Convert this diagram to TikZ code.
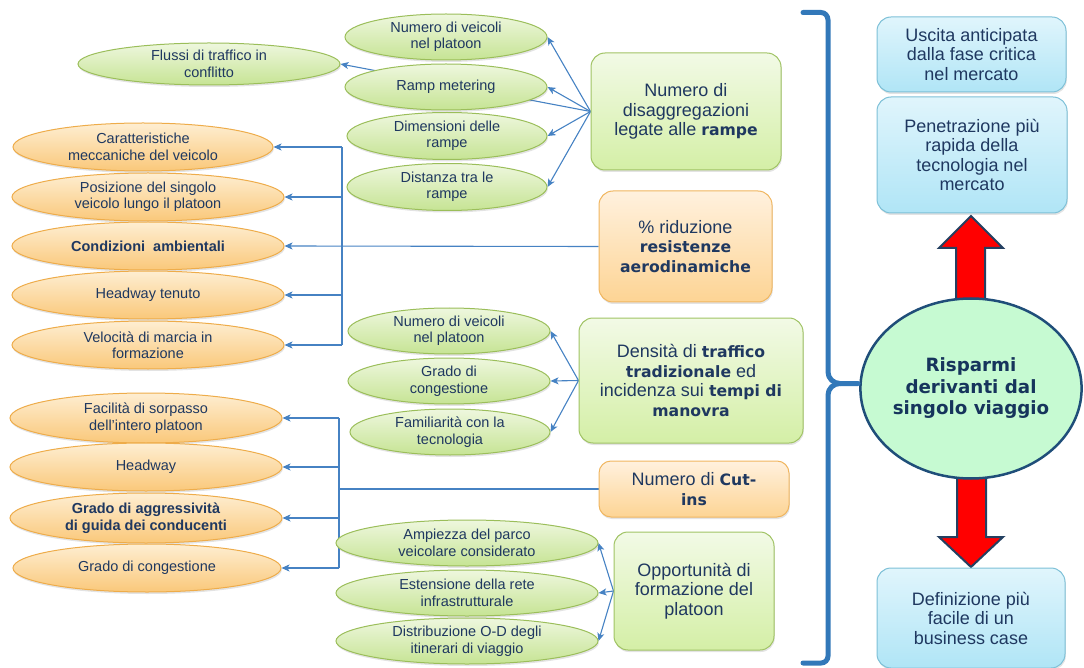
\documentclass[tikz,border=0pt]{standalone}
\usepackage{fontspec}
\setmainfont{Liberation Sans}
\newfontfamily\vb{DejaVu Sans}[Scale=0.87]
\usetikzlibrary{shapes.geometric,arrows.meta,shadows,calc}
\pgfdeclarelayer{background}
\pgfsetlayers{background,main}
\definecolor{txt}{RGB}{31,56,96}
\definecolor{gline}{RGB}{155,190,90}
\definecolor{gtop}{RGB}{238,247,222}
\definecolor{gbot}{RGB}{198,228,148}
\definecolor{oline}{RGB}{238,172,74}
\definecolor{otop}{RGB}{254,238,210}
\definecolor{obot}{RGB}{250,200,122}
\definecolor{gbline}{RGB}{160,195,100}
\definecolor{gbtop}{RGB}{242,250,230}
\definecolor{gbbot}{RGB}{212,239,166}
\definecolor{obline}{RGB}{240,182,96}
\definecolor{obtop}{RGB}{255,241,222}
\definecolor{obbot}{RGB}{253,212,148}
\definecolor{bbline}{RGB}{125,192,215}
\definecolor{bbtop}{RGB}{224,245,252}
\definecolor{bbbot}{RGB}{176,229,246}
\definecolor{lblue}{RGB}{70,130,195}
\definecolor{bracecol}{RGB}{50,120,185}
\definecolor{risline}{RGB}{31,78,121}
\definecolor{risfill}{RGB}{198,250,210}
\definecolor{ristxt}{RGB}{22,52,92}
\definecolor{rdark}{RGB}{36,64,97}
\begin{document}
\begin{tikzpicture}[x=1pt,y=-1pt,
  every node/.style={text=txt, align=center},
  ell/.style 2 args={ellipse, inner sep=0pt, minimum width=#1pt, minimum height=#2pt,
    line width=1pt, font=\fontsize{14.5}{16.5}\selectfont,
    drop shadow={opacity=0.22, shadow xshift=0.8pt, shadow yshift=-2pt}},
  gE/.style={draw=gline, top color=gtop, bottom color=gbot},
  oE/.style={draw=oline, top color=otop, bottom color=obot},
  box/.style 2 args={rectangle, rounded corners=14pt, inner sep=0pt, minimum width=#1pt,
    minimum height=#2pt, line width=1pt, font=\fontsize{18}{19.5}\selectfont,
    drop shadow={opacity=0.22, shadow xshift=0.8pt, shadow yshift=-2pt}},
  gB/.style={draw=gbline, top color=gbtop, bottom color=gbbot},
  oB/.style={draw=obline, top color=obtop, bottom color=obbot},
  bB/.style={draw=bbline, top color=bbtop, bottom color=bbbot},
  conn/.style={draw=lblue, line width=1.1pt},
  arr/.style={conn, -{Stealth[length=8pt,width=7pt,inset=2pt]}},
  bigbrace/.style={draw=bracecol, line width=5pt},
  redarr/.style={fill=red, draw=rdark, line width=2pt, line join=miter}
]
\useasboundingbox (0,0) rectangle (1084,668);

% ---- top green ellipses (ramps)
\node[ell={202}{46}, gE] (nv1) at (446,37) {Numero di veicoli\\nel platoon};
\node[ell={262}{42}, gE] (flu) at (209,64) {Flussi di traffico in\\conflitto};
\node[ell={202}{46}, gE] (ramp) at (446,87) {Ramp metering};
\node[ell={200}{47}, gE] (dim) at (447,136) {Dimensioni delle\\rampe};
\node[ell={200}{47}, gE] (dist) at (447,187) {Distanza tra le\\rampe};

% ---- orange ellipses group 1
\node[ell={260}{48}, oE] (car) at (143,147) {Caratteristiche\\meccaniche del veicolo};
\node[ell={272}{48}, oE] (pos) at (148,197) {Posizione del singolo\\veicolo lungo il platoon};
\node[ell={272}{48}, oE] (cond) at (148,246) {\bfseries Condizioni\ \ ambientali};
\node[ell={272}{48}, oE] (head1) at (148,295) {Headway tenuto};
\node[ell={272}{48}, oE] (vel) at (148,345) {Velocità di marcia in\\formazione};

% ---- middle green ellipses
\node[ell={202}{46}, gE] (nv2) at (449,331) {Numero di veicoli\\nel platoon};
\node[ell={202}{46}, gE] (gc2) at (449,381) {Grado di\\congestione};
\node[ell={200}{46}, gE] (fam) at (450,432) {Familiarità con la\\tecnologia};

% ---- orange ellipses group 2
\node[ell={272}{50}, oE] (fac) at (146,418) {Facilità di sorpasso\\dell’intero platoon};
\node[ell={272}{48}, oE] (head2) at (146,467) {Headway};
\node[ell={272}{50}, oE] (agg) at (146,518) {\bfseries Grado di aggressività\\\bfseries di guida dei conducenti};
\node[ell={268}{48}, oE] (gcon) at (147,568) {Grado di congestione};

% ---- bottom green ellipses
\node[ell={262}{46}, gE] (amp) at (467,543) {Ampiezza del parco\\veicolare considerato};
\node[ell={262}{46}, gE] (est) at (467,593) {Estensione della rete\\infrastrutturale};
\node[ell={262}{46}, gE] (distod) at (467,641) {Distribuzione O-D degli\\itinerari di viaggio};

% ---- middle boxes
\node[box={190}{117}, gB] (disag) at (686,111.5) {Numero di\\disaggregazioni\\legate alle {\vb\bfseries rampe}};
\node[box={173}{111}, oB] (rid) at (685.5,246.5) {\% riduzione\\{\vb\bfseries resistenze}\\{\vb\bfseries aerodinamiche}};
\node[box={224}{125}, gB] (dens) at (691,380.5) {Densità di {\vb\bfseries traffico}\\{\vb\bfseries tradizionale} ed\\incidenza sui {\vb\bfseries tempi di}\\{\vb\bfseries manovra}};
\node[box={190}{56}, oB, rounded corners=12pt] (cut) at (694,489) {Numero di {\vb\bfseries Cut-}\\{\vb\bfseries ins}};
\node[box={160}{118}, gB] (opp) at (694,591) {Opportunità di\\formazione del\\platoon};

% ---- right column
\node[box={189}{75}, bB] (usc) at (971.5,54.5) {Uscita anticipata\\dalla fase critica\\nel mercato};
\node[box={190}{116}, bB] (pen) at (972,155) {Penetrazione più\\rapida della\\tecnologia nel\\mercato};
\node[box={188}{100}, bB] (def) at (971,618) {Definizione più\\facile di un\\business case};
\node[ellipse, draw=risline, line width=2.5pt, fill=risfill, inner sep=0pt,
      minimum width=221pt, minimum height=180pt, text=ristxt,
      font=\vb\bfseries\fontsize{21}{21.5}\selectfont] (ris) at (971,388.5)
      {Risparmi\\derivanti dal\\singolo viaggio};

% ---- connectors (behind the shapes)
\begin{pgfonlayer}{background}
  % ramps
  \draw[arr] (disag.west) -- (flu.east);
  \draw[arr] (disag.west) -- (nv1.east);
  \draw[arr] (disag.west) -- (ramp.east);
  \draw[arr] (disag.west) -- (dim.east);
  \draw[arr] (disag.west) -- (dist.east);
  % traffic density
  \draw[arr] (dens.west) -- (nv2.east);
  \draw[arr] (dens.west) -- (gc2.east);
  \draw[arr] (dens.west) -- (fam.east);
  % platoon formation
  \draw[arr] (opp.west) -- (amp.east);
  \draw[arr] (opp.west) -- (est.east);
  \draw[arr] (opp.west) -- (distod.east);
  % aerodynamic group
  \coordinate (t1) at (342,0);
  \draw[conn] (t1 |- car.east) -- (t1 |- vel.east);
  \draw[arr] (rid.west) -- (cond.east);
  \draw[arr] (t1 |- car.east) -- (car.east);
  \draw[arr] (t1 |- pos.east) -- (pos.east);
  \draw[arr] (t1 |- head1.east) -- (head1.east);
  \draw[arr] (t1 |- vel.east) -- (vel.east);
  % cut-ins group
  \coordinate (t2) at (339,0);
  \draw[conn] (t2 |- fac.east) -- (t2 |- gcon.east);
  \draw[conn] (cut.west) -- (t2 |- cut.west);
  \draw[arr] (t2 |- fac.east) -- (fac.east);
  \draw[arr] (t2 |- head2.east) -- (head2.east);
  \draw[arr] (t2 |- agg.east) -- (agg.east);
  \draw[arr] (t2 |- gcon.east) -- (gcon.east);
  % big red arrows
  \filldraw[redarr] (956,300) -- (956,248) -- (939,248) -- (971,216) -- (1003,248) -- (985,248) -- (985,300) -- cycle;
  \filldraw[redarr] (957,477) -- (957,537) -- (939,537) -- (971,567) -- (1003,537) -- (986,537) -- (986,477) -- cycle;
\end{pgfonlayer}

% ---- big brace
\coordinate (bp) at (858,383.5);
\draw[bigbrace, line cap=round] (803,12.5) -- (821,12.5) to[out=0,in=90] (828,20) -- (828,372)
   to[out=-90,in=180] (840,383.5) -- (bp);
\draw[bigbrace, line cap=round] (840,383.5) to[out=180,in=90] (828,395) -- (828,656)
   to[out=-90,in=0] (821,663) -- (803,663);
\end{tikzpicture}
\end{document}
